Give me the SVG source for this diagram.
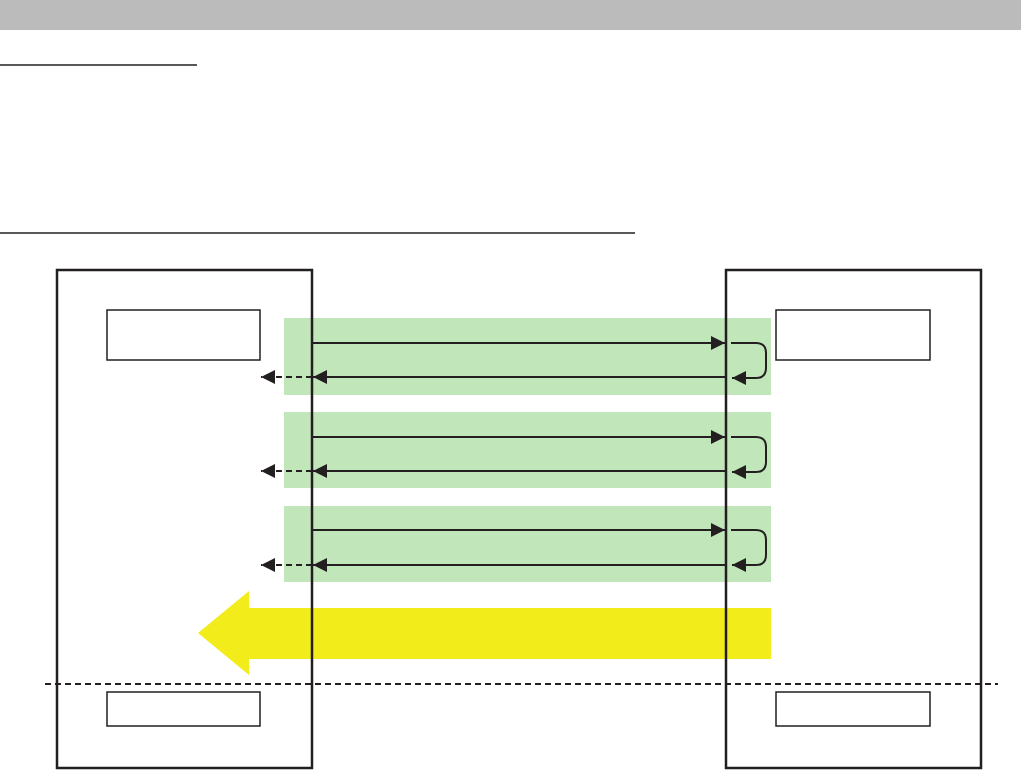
<svg xmlns="http://www.w3.org/2000/svg" width="1021" height="775" viewBox="0 0 1021 775">
<style>
.band{fill:#c0e6b9}
.big{fill:none;stroke:#231f20;stroke-width:2.5}
.small{fill:#fff;stroke:#231f20;stroke-width:1.5}
.ln{fill:none;stroke:#231f20;stroke-width:2}
.dash{fill:none;stroke:#231f20;stroke-width:2;stroke-dasharray:6 4}
</style>
<defs>
<marker id="ah" viewBox="0 0 14 14" refX="14" refY="7" markerWidth="14" markerHeight="14" markerUnits="userSpaceOnUse" orient="auto">
<path d="M0,0 L14,7 L0,14 Z" fill="#231f20"/>
</marker>
</defs>
<rect x="0" y="0" width="1021" height="30" fill="#bbbbbb"/>
<line x1="0" y1="65" x2="197" y2="65" stroke="#231f20" stroke-width="1.5"/>
<line x1="0" y1="233" x2="635" y2="233" stroke="#231f20" stroke-width="1.5"/>
<g id="bands">
<rect class="band" x="284" y="318" width="487" height="77"/>
<rect class="band" x="284" y="412" width="487" height="76"/>
<rect class="band" x="284" y="506" width="487" height="76"/>
</g>
<g id="flow-arrow">
<path d="M771,608 L249,608 L249,591 L198,633 L249,675 L249,659 L771,659 Z" fill="#f2ec1a"/>
</g>
<g id="left-node">
<rect class="big" x="57" y="270" width="255" height="498"/>
<rect class="small" x="107" y="310" width="153" height="50"/>
<rect class="small" x="107" y="692" width="153" height="34"/>
</g>
<g id="right-node">
<rect class="big" x="726" y="270" width="255" height="498"/>
<rect class="small" x="776" y="310" width="154" height="50"/>
<rect class="small" x="776" y="692" width="154" height="34"/>
</g>
<line class="dash" x1="45" y1="684" x2="998" y2="684"/>
<g id="connectors">
<line class="ln" x1="313" y1="343" x2="725" y2="343" marker-end="url(#ah)"/>
<path class="ln" d="M731,343 L756,343 Q766,343 766,353 L766,368 Q766,378 756,378 L732,378" marker-end="url(#ah)"/>
<line class="ln" x1="725" y1="377" x2="313" y2="377" marker-end="url(#ah)"/>
<line class="dash" x1="312" y1="377" x2="261" y2="377" marker-end="url(#ah)"/>

<line class="ln" x1="313" y1="437" x2="725" y2="437" marker-end="url(#ah)"/>
<path class="ln" d="M731,437 L756,437 Q766,437 766,447 L766,462 Q766,472 756,472 L732,472" marker-end="url(#ah)"/>
<line class="ln" x1="725" y1="471" x2="313" y2="471" marker-end="url(#ah)"/>
<line class="dash" x1="312" y1="471" x2="261" y2="471" marker-end="url(#ah)"/>

<line class="ln" x1="313" y1="530" x2="725" y2="530" marker-end="url(#ah)"/>
<path class="ln" d="M731,530 L756,530 Q766,530 766,540 L766,555 Q766,565 756,565 L732,565" marker-end="url(#ah)"/>
<line class="ln" x1="725" y1="565" x2="313" y2="565" marker-end="url(#ah)"/>
<line class="dash" x1="312" y1="565" x2="261" y2="565" marker-end="url(#ah)"/>
</g>
</svg>
